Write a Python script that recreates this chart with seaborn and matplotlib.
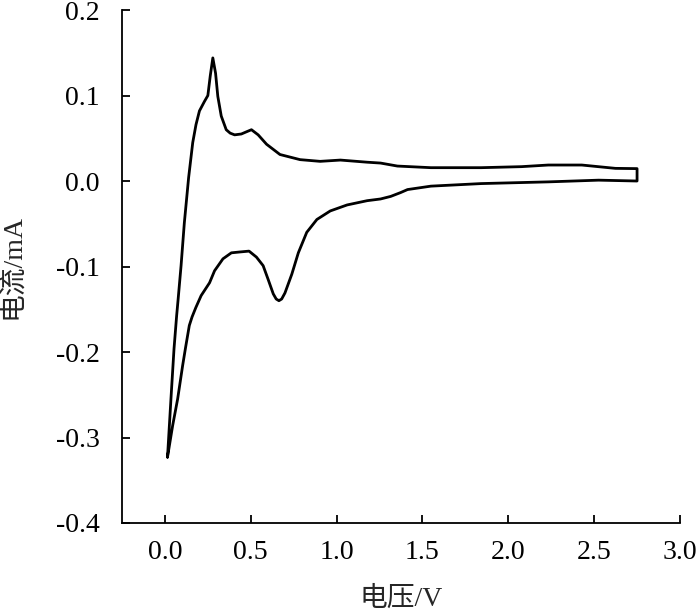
import numpy as np
import matplotlib
matplotlib.use("Agg")
import matplotlib.pyplot as plt
import seaborn as sns

# CV curve: anodic sweep (upper) then cathodic sweep (lower)
voltage_up = [0.015, 0.035, 0.053, 0.068, 0.077, 0.094, 0.113, 0.138, 0.162, 0.181,
              0.201, 0.230, 0.250, 0.264, 0.279, 0.295, 0.308, 0.328, 0.357, 0.380,
              0.406, 0.445, 0.480, 0.504, 0.543, 0.592, 0.670, 0.787, 0.904, 1.022,
              1.178, 1.256, 1.354, 1.549, 1.842, 2.077, 2.233, 2.428, 2.624, 2.75]
current_up = [-0.323, -0.255, -0.196, -0.158, -0.138, -0.099, -0.049, 0.004, 0.045, 0.066,
              0.082, 0.093, 0.100, 0.123, 0.144, 0.126, 0.099, 0.076, 0.060, 0.056,
              0.054, 0.055, 0.058, 0.060, 0.054, 0.043, 0.031, 0.025, 0.023, 0.0245,
              0.022, 0.021, 0.0175, 0.0156, 0.0156, 0.0168, 0.0187, 0.0187, 0.0148, 0.0145]

voltage_down = [2.75, 2.526, 2.233, 1.842, 1.549, 1.413, 1.373, 1.315, 1.256, 1.178,
                1.061, 0.963, 0.885, 0.826, 0.777, 0.739, 0.699, 0.680, 0.664, 0.648,
                0.631, 0.601, 0.572, 0.533, 0.490, 0.436, 0.387, 0.338, 0.289, 0.260,
                0.211, 0.180, 0.158, 0.142, 0.120, 0.103, 0.074, 0.045, 0.015]
current_down = [0.0, 0.001, -0.001, -0.003, -0.006, -0.010, -0.0135, -0.018, -0.021, -0.023,
                -0.028, -0.035, -0.045, -0.060, -0.084, -0.109, -0.131, -0.138, -0.140, -0.138,
                -0.132, -0.115, -0.099, -0.089, -0.082, -0.083, -0.084, -0.091, -0.105, -0.119,
                -0.134, -0.148, -0.159, -0.169, -0.195, -0.216, -0.255, -0.286, -0.323]

xticks = [0.0, 0.5, 1.0, 1.5, 2.0, 2.5, 3.0]
yticks = [-0.4, -0.3, -0.2, -0.1, 0.0, 0.1, 0.2]

sns.set_style("ticks")
plt.rcParams['font.family'] = ['Liberation Serif', 'Noto Sans CJK SC']
plt.rcParams['axes.unicode_minus'] = False

fig = plt.figure(figsize=(7, 6.15), dpi=100)
ax = fig.add_axes([0.1743, 0.1496, 0.7971, 0.8341])

x = np.array(voltage_up + voltage_down)
y = np.array(current_up + current_down)
sns.lineplot(x=x, y=y, sort=False, estimator=None, color="black", linewidth=2.0, ax=ax)
ax.lines[0].set_solid_joinstyle("round")

ax.set_xlim(-0.25, 3.0)
ax.set_ylim(-0.4, 0.2)
ax.set_xticks(xticks)
ax.set_yticks(yticks)
ax.set_xticklabels([f"{v:.1f}" for v in xticks])
ax.set_yticklabels([f"{v:.1f}" for v in yticks])
ax.tick_params(direction="in", length=6, width=1.3, labelsize=20, colors="black")
ax.tick_params(axis="y", pad=16)
ax.tick_params(axis="x", pad=12)
sns.despine(ax=ax)
for s in ["left", "bottom"]:
    ax.spines[s].set_linewidth(1.3)
    ax.spines[s].set_color("black")

ax.set_xlabel("电压/V", fontsize=20, labelpad=16)
ax.set_ylabel("电流/mA", fontsize=20, labelpad=22)

fig.savefig("out.png", dpi=100)
